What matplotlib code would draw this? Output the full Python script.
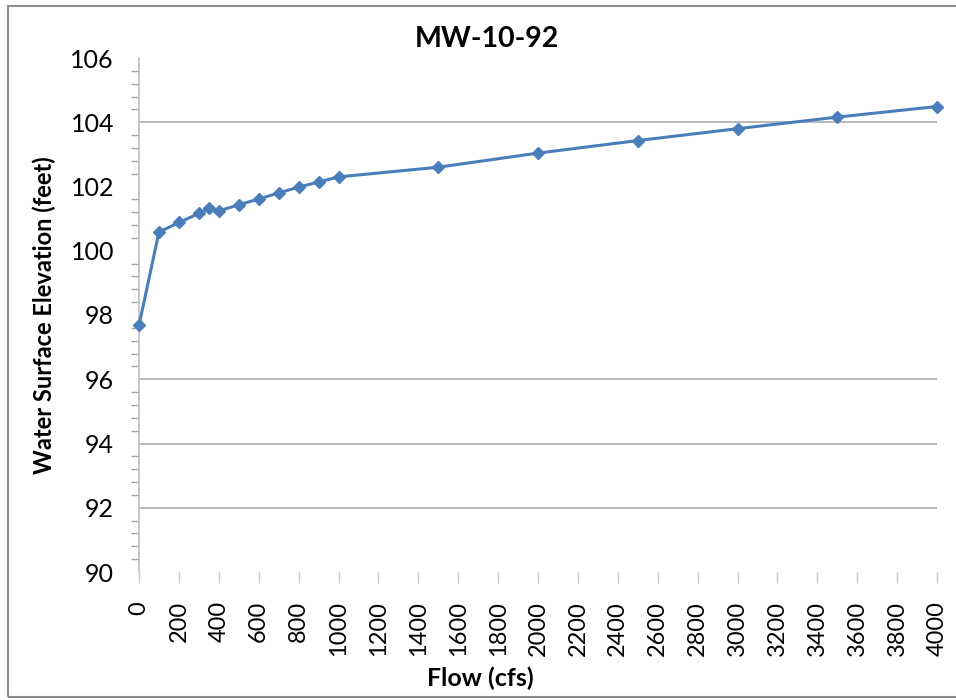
#
# plot.py - MW-10-92 rating curve
#
import matplotlib
matplotlib.use("Agg")
import matplotlib.pyplot as plt
from matplotlib.patches import Rectangle
from matplotlib.ticker import MultipleLocator

# data
flow = [0, 100, 200, 300, 350, 400, 500, 600, 700, 800, 900, 1000,
        1500, 2000, 2500, 3000, 3500, 4000]
elev = [97.68, 100.58, 100.88, 101.16, 101.32, 101.24, 101.43, 101.61,
        101.80, 101.98, 102.14, 102.30, 102.60, 103.04, 103.43, 103.80,
        104.16, 104.49]
grid_levels = [92, 94, 96, 104]
x_ticks = list(range(0, 4001, 200))
y_ticks = [90, 92, 94, 96, 98, 100, 102, 104, 106]

plt.rcParams['font.family'] = ['Lato', 'DejaVu Sans']

fig = plt.figure(figsize=(9.56, 7), dpi=100)
ax = fig.add_axes([139/956, 1 - 572/700, 798/956, 514/700])

for g in grid_levels:
    ax.axhline(g, color='#a6a6a6', lw=1.1, zorder=1)

ax.plot(flow, elev, color='#4a7ebb', lw=2.2, marker='D', ms=6.5,
        zorder=3, clip_on=False)

ax.set_xlim(0, 4000)
ax.set_ylim(90, 106)
ax.set_xticks(x_ticks)
ax.set_xticklabels([str(v) for v in x_ticks], rotation=90, fontsize=17)
ax.set_yticks(y_ticks)
ax.set_yticklabels([str(v) for v in y_ticks], fontsize=18)
ax.yaxis.set_minor_locator(MultipleLocator(0.4))

for s in ['top', 'right', 'bottom']:
    ax.spines[s].set_visible(False)
ax.spines['left'].set_color('#bfbfbf')
ax.spines['left'].set_linewidth(1.2)

ax.tick_params(axis='x', length=8, width=1, color='#c8c8c8', pad=13)
ax.tick_params(axis='y', which='major', length=0, pad=18)
ax.tick_params(axis='y', which='minor', length=6, width=1, color='#a6a6a6')

fig.text(487/956, 1 - 39/700, 'MW-10-92', fontsize=20.5, fontweight='bold',
         ha='center', va='center')
fig.text(480/956, 1 - 678/700, 'Flow (cfs)', fontsize=18, fontweight='bold',
         ha='center', va='center')
fig.text(44/956, 1 - 315/700, 'Water Surface Elevation (feet)', fontsize=17,
         fontweight='bold', rotation=90, ha='center', va='center')

# chart area border
fig.patches.append(Rectangle((8/956, 3/700), 1.0, 691/700,
                             transform=fig.transFigure, fill=False,
                             edgecolor='#8c8c8c', lw=1.5))

fig.savefig('out.png', dpi=100)
